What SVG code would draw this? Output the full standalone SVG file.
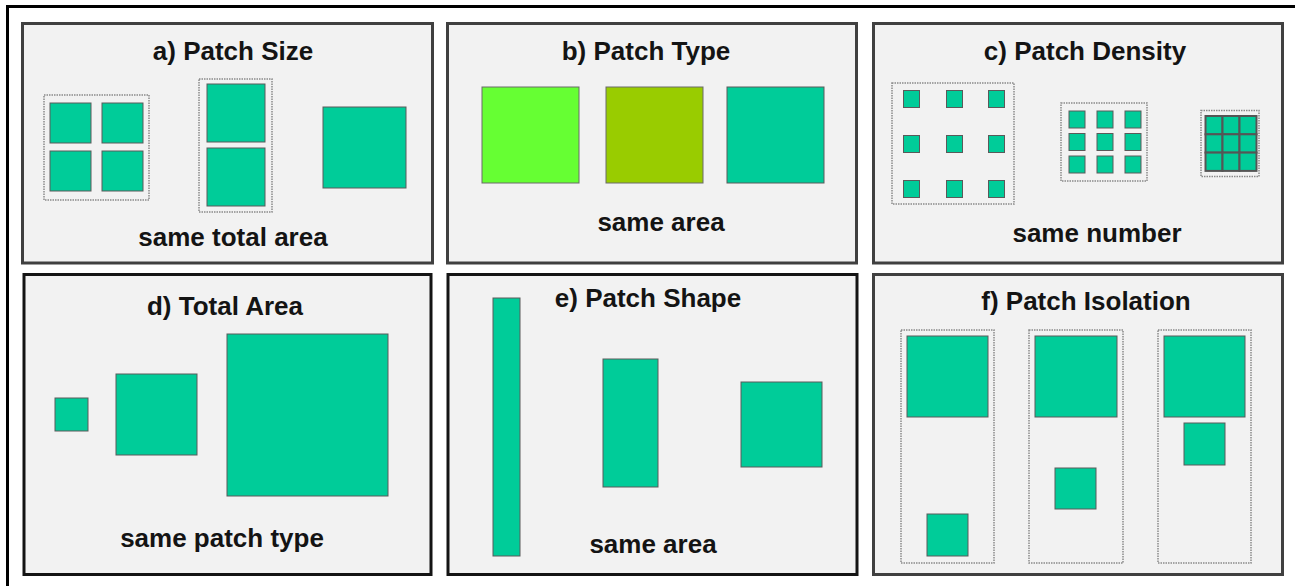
<svg xmlns="http://www.w3.org/2000/svg" width="1295" height="586" viewBox="0 0 1295 586">
<style>
.panel{fill:#f2f2f2;stroke:#404040;stroke-width:3}
.panel.dk{stroke:#141414}
.p{fill:#00cc99;stroke:#5a5a5a;stroke-width:1}
.g{fill:#00cc99;stroke:#555555;stroke-width:2}
.dot{fill:none;stroke:#8a8a8a;stroke-width:1.5;stroke-dasharray:1.5 1}
.t{font-family:"Liberation Sans",Arial,sans-serif;font-weight:bold;font-size:26px;fill:#141414;text-anchor:middle}
</style>
<rect x="0" y="0" width="1295" height="586" fill="#ffffff"/>
<rect x="7.5" y="6.5" width="1300" height="600" fill="none" stroke="#000" stroke-width="3"/>

<g id="panel-a">
<rect class="panel" x="22.5" y="23.5" width="410" height="239.5"/>
<text class="t" x="233" y="60">a) Patch Size</text>
<rect class="dot" x="44" y="95" width="105" height="105"/>
<rect class="p" x="50" y="103" width="41" height="40"/>
<rect class="p" x="102" y="103" width="41" height="40"/>
<rect class="p" x="50" y="151" width="41" height="40"/>
<rect class="p" x="102" y="151" width="41" height="40"/>
<rect class="dot" x="199" y="79" width="73" height="133"/>
<rect class="p" x="207" y="84" width="58" height="58"/>
<rect class="p" x="207" y="148" width="58" height="58"/>
<rect class="p" x="323" y="107" width="83" height="81"/>
<text class="t" x="233" y="246">same total area</text>
</g>

<g id="panel-b">
<rect class="panel" x="447.5" y="23.5" width="409" height="239.5"/>
<text class="t" x="646" y="60">b) Patch Type</text>
<rect x="482" y="87" width="97" height="96" fill="#66ff33" stroke="#6a6a6a" stroke-width="1"/>
<rect x="606" y="87" width="97" height="96" fill="#99cc00" stroke="#6a6a6a" stroke-width="1"/>
<rect class="p" x="727" y="87" width="97" height="96"/>
<text class="t" x="661" y="231">same area</text>
</g>

<g id="panel-c">
<rect class="panel" x="873.5" y="23.5" width="409" height="239.5"/>
<text class="t" x="1085" y="60">c) Patch Density</text>
<rect class="dot" x="892" y="83" width="122" height="121"/>
<rect class="p" x="903.5" y="90.5" width="16" height="17"/>
<rect class="p" x="946.5" y="90.5" width="16" height="17"/>
<rect class="p" x="988.5" y="90.5" width="16" height="17"/>
<rect class="p" x="903.5" y="135.5" width="16" height="17"/>
<rect class="p" x="946.5" y="135.5" width="16" height="17"/>
<rect class="p" x="988.5" y="135.5" width="16" height="17"/>
<rect class="p" x="903.5" y="180.5" width="16" height="17"/>
<rect class="p" x="946.5" y="180.5" width="16" height="17"/>
<rect class="p" x="988.5" y="180.5" width="16" height="17"/>
<rect class="dot" x="1061" y="103" width="86" height="78"/>
<rect class="p" x="1069" y="111" width="16" height="17"/>
<rect class="p" x="1097" y="111" width="16" height="17"/>
<rect class="p" x="1125" y="111" width="16" height="17"/>
<rect class="p" x="1069" y="133.5" width="16" height="17"/>
<rect class="p" x="1097" y="133.5" width="16" height="17"/>
<rect class="p" x="1125" y="133.5" width="16" height="17"/>
<rect class="p" x="1069" y="156" width="16" height="17"/>
<rect class="p" x="1097" y="156" width="16" height="17"/>
<rect class="p" x="1125" y="156" width="16" height="17"/>
<rect class="dot" x="1201" y="110.5" width="58" height="66"/>
<rect class="g" x="1205.5" y="116" width="17" height="18.3"/>
<rect class="g" x="1222.5" y="116" width="17" height="18.3"/>
<rect class="g" x="1239.5" y="116" width="17" height="18.3"/>
<rect class="g" x="1205.5" y="134.3" width="17" height="18.3"/>
<rect class="g" x="1222.5" y="134.3" width="17" height="18.3"/>
<rect class="g" x="1239.5" y="134.3" width="17" height="18.3"/>
<rect class="g" x="1205.5" y="152.6" width="17" height="18.3"/>
<rect class="g" x="1222.5" y="152.6" width="17" height="18.3"/>
<rect class="g" x="1239.5" y="152.6" width="17" height="18.3"/>
<text class="t" x="1097" y="242">same number</text>
</g>

<g id="panel-d">
<rect class="panel dk" x="24" y="274.5" width="407" height="300"/>
<text class="t" x="225" y="315">d) Total Area</text>
<rect class="p" x="55" y="398" width="33" height="33"/>
<rect class="p" x="116" y="374" width="81" height="81"/>
<rect class="p" x="227" y="334" width="161" height="162"/>
<text class="t" x="222" y="547">same patch type</text>
</g>

<g id="panel-e">
<rect class="panel dk" x="448" y="274.5" width="409" height="300"/>
<text class="t" x="648" y="307">e) Patch Shape</text>
<rect class="p" x="493" y="298" width="27" height="258"/>
<rect class="p" x="603" y="359" width="55" height="128"/>
<rect class="p" x="741" y="382" width="81" height="85"/>
<text class="t" x="653" y="553">same area</text>
</g>

<g id="panel-f">
<rect class="panel" x="873.5" y="274.5" width="409" height="300"/>
<text class="t" x="1086" y="310">f) Patch Isolation</text>
<rect class="dot" x="901" y="330" width="93" height="233"/>
<rect class="dot" x="1029" y="330" width="94" height="233"/>
<rect class="dot" x="1158" y="330" width="93" height="233"/>
<rect class="p" x="907" y="336" width="81" height="81"/>
<rect class="p" x="1035" y="336" width="82" height="81"/>
<rect class="p" x="1164" y="336" width="81" height="81"/>
<rect class="p" x="927" y="514" width="41" height="42"/>
<rect class="p" x="1055" y="468" width="41" height="41"/>
<rect class="p" x="1184" y="423" width="41" height="42"/>
</g>

<g id="connectors"></g>
</svg>
